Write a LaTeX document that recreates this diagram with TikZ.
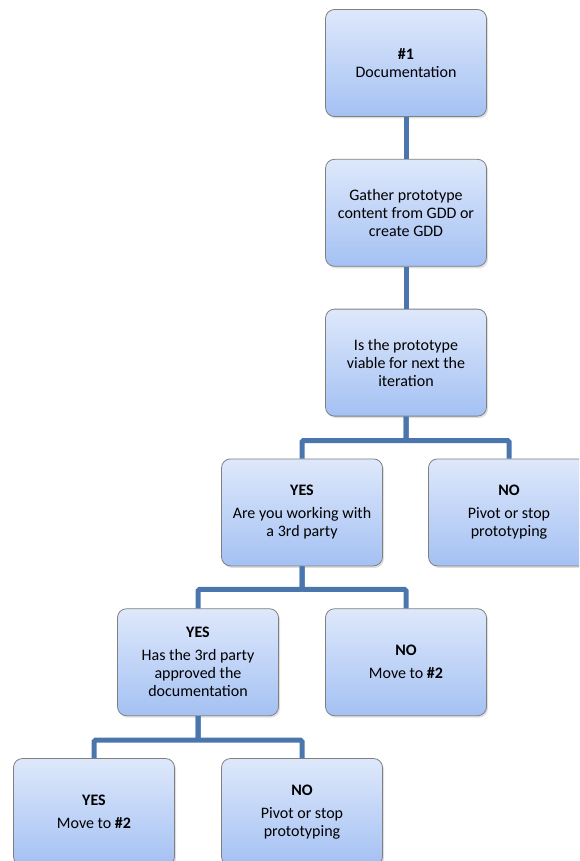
\documentclass[tikz,border=0pt]{standalone}
\usepackage{fontspec}
\setmainfont{Carlito}
\usetikzlibrary{positioning,shadows}
\definecolor{boxtop}{HTML}{DEE8FB}
\definecolor{boxbottom}{HTML}{A4C1F3}
\definecolor{linkblue}{HTML}{4A76AD}
\begin{document}
\begin{tikzpicture}[x=1pt,y=-1pt]
            \tikzstyle{main box}=[draw=black!50,line width=0.8pt,rounded corners=9pt,top color=boxtop,bottom color=boxbottom,minimum width=161pt,minimum height=107pt,align=center,font=\fontsize{16}{18}\selectfont,drop shadow={opacity=0.25,shadow xshift=1.5pt,shadow yshift=-2pt}]
            \tikzstyle{link}=[draw=linkblue,line width=5pt,rounded corners=1.5pt]
            \useasboundingbox (0,0) rectangle (579,861);
            \clip (0,0) rectangle (579,861);

            \node[main box] (doc) at (406,63) {\textbf{\#1}\\Documentation};
            \node[main box] (gather) [below=42pt of doc] {Gather prototype\\content from GDD or\\create GDD};
            \node[main box] (viable) [below=42pt of gather] {Is the prototype\\viable for next the\\iteration};
            \node[main box] (yes1) [below=42pt of viable,xshift=-104pt] {\textbf{YES}\\[5pt]Are you working with\\a 3rd party};
            \node[main box] (no1) [below=42pt of viable,xshift=103pt] {\textbf{NO}\\[5pt]Pivot or stop\\prototyping};
            \node[main box] (yes2) [below=42pt of yes1,xshift=-104pt] {\textbf{YES}\\[5pt]Has the 3rd party\\approved the\\documentation};
            \node[main box] (no2) [below=42pt of yes1,xshift=104pt] {\textbf{NO}\\[5pt]Move to \textbf{\#2}};
            \node[main box] (yes3) [below=42pt of yes2,xshift=-104pt] {\textbf{YES}\\[5pt]Move to \textbf{\#2}};
            \node[main box] (no3) [below=42pt of yes2,xshift=104pt] {\textbf{NO}\\[5pt]Pivot or stop\\prototyping};

            \draw[link] (doc.south) -- (gather.north);
            \draw[link] (gather.south) -- (viable.north);
            \draw[link] (viable.south) -- ++(0,24) -| (yes1.north);
            \draw[link] (viable.south) -- ++(0,24) -| (no1.north);
            \draw[link] (yes1.south) -- ++(0,23) -| (yes2.north);
            \draw[link] (yes1.south) -- ++(0,23) -| (no2.north);
            \draw[link] (yes2.south) -- ++(0,24) -| (yes3.north);
            \draw[link] (yes2.south) -- ++(0,24) -| (no3.north);
        \end{tikzpicture}
\end{document}
